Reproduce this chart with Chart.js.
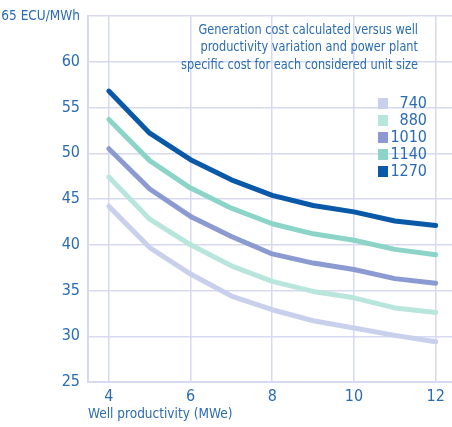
<!DOCTYPE html>
<html lang="en">
<head>
  <meta charset="UTF-8" />
  <title>Generation cost vs well productivity</title>
  <script src="https://cdn.jsdelivr.net/npm/chart.js"></script>
  <style>
    body { margin: 0; background: #fff; }
    #wrap { width: 452px; height: 427px; position: relative; }
  </style>
</head>
<body>
  <div id="wrap"><canvas id="costChart"></canvas></div>

  <script>
    // well productivity (MWe)
    const productivity = [4, 5, 6, 7, 8, 9, 10, 11, 12];
    const unitSizes = ['740', '880', '1010', '1140', '1270'];
    const cost740  = [44.2, 39.7, 36.8, 34.4, 32.9, 31.7, 30.9, 30.1, 29.4];
    const cost880  = [47.4, 42.8, 40.0, 37.7, 36.0, 34.9, 34.2, 33.1, 32.6];
    const cost1010 = [50.5, 46.1, 43.1, 40.9, 39.0, 38.0, 37.3, 36.3, 35.8];
    const cost1140 = [53.7, 49.2, 46.2, 44.0, 42.3, 41.2, 40.5, 39.5, 38.9];
    const cost1270 = [56.8, 52.2, 49.3, 47.1, 45.4, 44.3, 43.6, 42.6, 42.1];
    const xTicks = [4, 6, 8, 10, 12];
    const noteLines = [
      'Generation cost calculated versus well',
      'productivity variation and power plant',
      'specific cost for each considered unit size'
    ];

    const seriesColors = ['#c9d0ec', '#b9e6dc', '#8b9bd1', '#8cd4c7', '#0a58a8'];
    const textBlue = '#2a6cb3';
    const gridColor = '#d6d9ef';
    const fontFam = "'Liberation Sans Narrow', 'DejaVu Sans Condensed', sans-serif";

    const allSeries = [cost740, cost880, cost1010, cost1140, cost1270];

    // note text + legend drawn inside the plot
    const overlay = {
      id: 'overlay',
      afterDraw(chart) {
        const ctx = chart.ctx;
        ctx.save();
        ctx.fillStyle = textBlue;
        ctx.textAlign = 'right';
        ctx.textBaseline = 'middle';
        // note is a bit more condensed than the narrow font
        ctx.save();
        ctx.translate(418, 0);
        ctx.scale(0.9, 1);
        ctx.font = '14px ' + fontFam;
        noteLines.forEach((t, i) => ctx.fillText(t, 0, 30 + i * 17.5));
        ctx.restore();

        unitSizes.forEach((lab, i) => {
          const y = 103 + i * 17;
          ctx.fillStyle = seriesColors[i];
          ctx.fillRect(378, y - 5, 10, 11);
          ctx.fillStyle = textBlue;
          ctx.font = '16px ' + fontFam;
          ctx.fillText(lab, 427, y + 1);
        });
        ctx.restore();
      }
    };

    new Chart(document.getElementById('costChart'), {
      type: 'line',
      data: {
        datasets: unitSizes.map((lab, i) => ({
          label: lab,
          data: productivity.map((x, j) => ({ x: x, y: allSeries[i][j] })),
          borderColor: seriesColors[i],
          borderWidth: 5,
          pointRadius: 0,
          tension: 0,
          borderCapStyle: 'round',
          borderJoinStyle: 'round'
        }))
      },
      options: {
        responsive: true,
        maintainAspectRatio: false,
        animation: false,
        layout: { padding: { top: 6, right: 0, left: 0, bottom: 0 } },
        plugins: { legend: { display: false }, tooltip: { enabled: false } },
        scales: {
          x: {
            type: 'linear',
            min: 3.49,
            max: 12.4,
            afterBuildTicks(scale) { scale.ticks = xTicks.map(v => ({ value: v })); },
            afterFit(scale) { scale.height = 45; },
            grid: { color: gridColor, lineWidth: 1.5, drawTicks: false },
            border: { color: gridColor, width: 2 },
            ticks: { color: textBlue, font: { family: fontFam, size: 16 }, padding: 5, maxRotation: 0 },
            title: {
              display: true, text: 'Well productivity (MWe)', align: 'start',
              color: textBlue, font: { family: fontFam, size: 13.5 }, padding: { top: 7 }
            }
          },
          y: {
            min: 25,
            max: 65,
            afterFit(scale) { scale.width = 88; },
            grid: { color: gridColor, lineWidth: 1.5, drawTicks: false },
            border: { color: gridColor, width: 2 },
            ticks: {
              stepSize: 5,
              color: textBlue,
              padding: 8,
              font: c => ({ family: fontFam, size: c.tick && c.tick.value === 65 ? 13.5 : 16 }),
              callback: v => v === 65 ? '65 ECU/MWh' : v
            }
          }
        }
      },
      plugins: [overlay]
    });
  </script>
</body>
</html>
